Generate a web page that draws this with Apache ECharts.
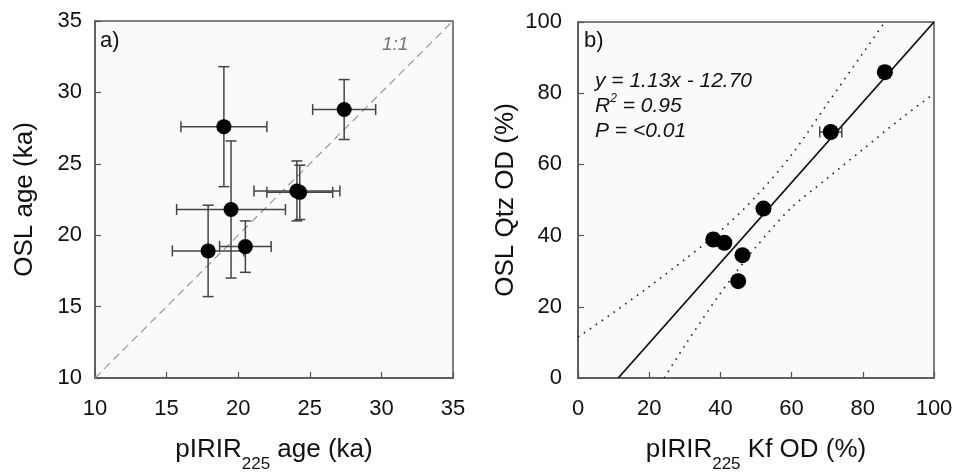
<!DOCTYPE html>
<html>
	<head>
		<meta charset="utf-8">
		<title>OSL vs pIRIR225</title>
		<script src="https://cdn.jsdelivr.net/npm/echarts@6/dist/echarts.min.js"></script>
		<style type="text/css">
			body {
				margin: 0;
				background-color: #ffffff;
			}

			#main {
				width: 957px;
				height: 473px;
			}
		</style>
	</head>

	<body>
		<div id="main"></div>
		<script>
			// a) ages (ka)
			var irAge = [19.0, 27.4, 19.5, 17.9, 20.5, 24.1, 24.3];
			var irAgeErr = [3.0, 2.2, 3.8, 2.5, 1.8, 3.0, 2.3];
			var oslAge = [27.6, 28.8, 21.8, 18.9, 19.2, 23.1, 23.0];
			var oslAgeErr = [4.2, 2.1, 4.8, 3.2, 1.8, 2.1, 1.9];
			var oneToOne = [[10, 10], [35, 35]];

			// b) overdispersion (%)
			var kfOd = [86.2, 71.0, 52.1, 38.0, 41.1, 46.2, 45.0];
			var kfOdErr = [0.8, 3.1, 0, 0, 0, 0, 0];
			var qtzOd = [85.9, 69.1, 47.6, 38.9, 38.0, 34.5, 27.2];
			var qtzOdErr = [1.6, 0.6, 0, 0, 0, 0, 0];
			var fitLine = [[11.3, 0], [100, 100]];
			var bandUpper = [[0, 11.5], [10, 18.4], [20, 25.7], [30, 33.3], [40, 41.3], [50, 51.0], [60, 62.7], [70, 77.0], [80, 91.2], [86.2, 100]];
			var bandLower = [[24.2, 0], [30, 9.1], [40, 23.8], [50, 36.8], [60, 47.9], [70, 56.1], [80, 64.2], [90, 72.3], [100, 79.9]];

			var FONT = 'Liberation Sans, Arial, sans-serif';
			var AXIS_COLOR = '#555';

			function errRender(params, api) {
				var x = api.value(0);
				var y = api.value(1);
				var ex = api.value(2);
				var ey = api.value(3);
				var cap = 5.5;
				var st = { stroke: '#444', lineWidth: 1.5 };
				var kids = [];
				if (ex > 0) {
					var l = api.coord([x - ex, y]);
					var r = api.coord([x + ex, y]);
					kids.push({ type: 'line', shape: { x1: l[0], y1: l[1], x2: r[0], y2: r[1] }, style: st });
					kids.push({ type: 'line', shape: { x1: l[0], y1: l[1] - cap, x2: l[0], y2: l[1] + cap }, style: st });
					kids.push({ type: 'line', shape: { x1: r[0], y1: r[1] - cap, x2: r[0], y2: r[1] + cap }, style: st });
				}
				if (ey > 0) {
					var t = api.coord([x, y + ey]);
					var b = api.coord([x, y - ey]);
					kids.push({ type: 'line', shape: { x1: t[0], y1: t[1], x2: b[0], y2: b[1] }, style: st });
					kids.push({ type: 'line', shape: { x1: t[0] - cap, y1: t[1], x2: t[0] + cap, y2: t[1] }, style: st });
					kids.push({ type: 'line', shape: { x1: b[0] - cap, y1: b[1], x2: b[0] + cap, y2: b[1] }, style: st });
				}
				return { type: 'group', children: kids };
			}

			function makeAxis(min, max, step, gridIndex, name, nameGap, labelMargin) {
				return {
					type: 'value',
					gridIndex: gridIndex,
					min: min,
					max: max,
					interval: step,
					name: name,
					nameLocation: 'middle',
					nameGap: nameGap,
					nameTextStyle: {
						color: '#111',
						fontFamily: FONT,
						fontSize: 26,
						rich: {
							a: { fontSize: 26, fontFamily: FONT, color: '#111', lineHeight: 46 },
							s: { fontSize: 17, fontFamily: FONT, color: '#111', lineHeight: 18, verticalAlign: 'bottom' }
						}
					},
					axisLine: { show: true, lineStyle: { color: AXIS_COLOR, width: 1.5 } },
					axisTick: { show: true, inside: true, length: 6, lineStyle: { color: AXIS_COLOR, width: 1.2 } },
					axisLabel: {
						color: '#111',
						fontFamily: FONT,
						fontSize: 22,
						margin: labelMargin,
						showMinLabel: true,
						showMaxLabel: true
					},
					splitLine: { show: false }
				};
			}

			var chart = echarts.init(document.getElementById('main'));
			var errA = irAge.map(function(x, i) { return [x, oslAge[i], irAgeErr[i], oslAgeErr[i]]; });
			var ptsA = irAge.map(function(x, i) { return [x, oslAge[i]]; });
			var errB = kfOd.map(function(x, i) { return [x, qtzOd[i], kfOdErr[i], qtzOdErr[i]]; });
			var ptsB = kfOd.map(function(x, i) { return [x, qtzOd[i]]; });

			var option = {
				animation: false,
				backgroundColor: '#ffffff',
				grid: [
					{ left: 95, top: 21, width: 358, height: 357, outerBoundsMode: 'none', show: true, backgroundColor: '#fafafa', borderColor: AXIS_COLOR, borderWidth: 1.5 },
					{ left: 578, top: 22, width: 356, height: 356, outerBoundsMode: 'none', show: true, backgroundColor: '#fafafa', borderColor: AXIS_COLOR, borderWidth: 1.5 }
				],
				xAxis: [
					makeAxis(10, 35, 5, 0, '{a|pIRIR}{s|225}{a| age (ka)}', 49, 20),
					makeAxis(0, 100, 20, 1, '{a|pIRIR}{s|225}{a| Kf OD (%)}', 49, 20)
				],
				yAxis: [
					makeAxis(10, 35, 5, 0, 'OSL age (ka)', 57, 13),
					makeAxis(0, 100, 20, 1, 'OSL Qtz OD (%)', 59, 16)
				],
				graphic: [
					{ type: 'text', left: 100, top: 30, style: { text: 'a)', font: '22px ' + FONT, fill: '#111' } },
					{ type: 'text', left: 382, top: 35, style: { text: '1:1', font: 'italic 19px ' + FONT, fill: '#777' } },
					{ type: 'text', left: 584, top: 30, style: { text: 'b)', font: '22px ' + FONT, fill: '#111' } },
					{ type: 'text', left: 595, top: 71, style: { text: 'y = 1.13x - 12.70', font: 'italic 21px ' + FONT, fill: '#111' } },
					{
						type: 'text', left: 595, top: 93,
						style: {
							text: '{i|R}{u|2}{i| = 0.95}',
							rich: {
								i: { font: 'italic 21px ' + FONT, fill: '#111', lineHeight: 27 },
								u: { font: 'italic 12px ' + FONT, fill: '#111', lineHeight: 15, verticalAlign: 'top' }
							}
						}
					},
					{ type: 'text', left: 595, top: 121, style: { text: 'P = <0.01', font: 'italic 21px ' + FONT, fill: '#111' } }
				],
				series: [
					{
						type: 'line', xAxisIndex: 0, yAxisIndex: 0, data: oneToOne, symbol: 'none',
						lineStyle: { color: '#999', width: 1.2, type: [8, 5] }, z: 1
					},
					{
						type: 'custom', xAxisIndex: 0, yAxisIndex: 0, data: errA, renderItem: errRender,
						encode: { x: 0, y: 1 }, z: 2
					},
					{
						type: 'scatter', xAxisIndex: 0, yAxisIndex: 0, data: ptsA, symbolSize: 15,
						itemStyle: { color: '#000', opacity: 1 }, z: 3
					},
					{
						type: 'line', xAxisIndex: 1, yAxisIndex: 1, data: fitLine, symbol: 'none',
						lineStyle: { color: '#111', width: 1.8 }, z: 1
					},
					{
						type: 'line', xAxisIndex: 1, yAxisIndex: 1, data: bandUpper, symbol: 'none', smooth: 0.3,
						lineStyle: { color: '#222', width: 1.6, type: [1.6, 5.6] }, z: 1
					},
					{
						type: 'line', xAxisIndex: 1, yAxisIndex: 1, data: bandLower, symbol: 'none', smooth: 0.3,
						lineStyle: { color: '#222', width: 1.6, type: [1.6, 5.6] }, z: 1
					},
					{
						type: 'custom', xAxisIndex: 1, yAxisIndex: 1, data: errB, renderItem: errRender,
						encode: { x: 0, y: 1 }, z: 2
					},
					{
						type: 'scatter', xAxisIndex: 1, yAxisIndex: 1, data: ptsB, symbolSize: 16,
						itemStyle: { color: '#000', opacity: 1 }, z: 3
					}
				]
			};
			chart.setOption(option);
		</script>
	</body>
</html>
